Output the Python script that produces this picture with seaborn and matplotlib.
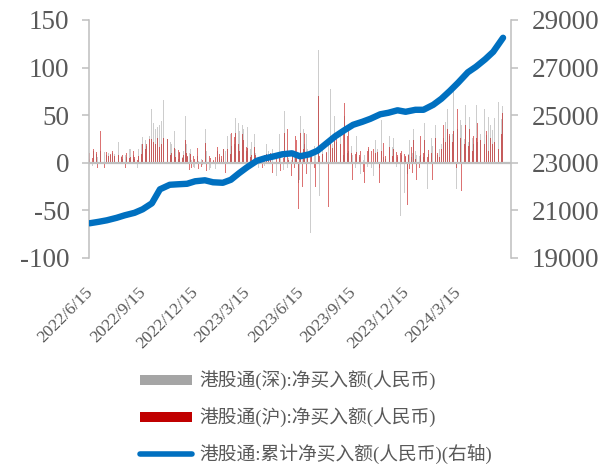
import matplotlib
matplotlib.use("Agg")
import matplotlib.pyplot as plt
import matplotlib.transforms as mtransforms
from matplotlib.lines import Line2D
import pandas as pd
import seaborn as sns

START = "2022-06-15"

# 港股通(深) daily net buy, one value per trading day
sz_net = [
    4, 35, 8, -3, 6, 12, -12, 5, 9, -4, 6, 10, 7,
    12, 6, -5, 9, 4, 11, 7, -3, 8, 3, 10, 24, 4,
    8, 3, 10, -10, 6, 9, 2, 7, -8, 5, 22, 6, 9,
    7, 10, 4, 12, -3, 8, 11, 6, -5, 9, 14, 7, 15,
    10, 6, 8, 25, 4, 12, 22, -5, 9, 14, 11, 18, 20,
    16, 27, 12, 20, 24, 30, 18, 40, 14, 28, 35, 45,
    56, 30, 42, 25, 48, 35, 45, 38, 52, 28, 40, 63, 44,
    73, 40, 66, 30, 58, 35, 56, 25, 42, 30, 22, -15, 20,
    -15, 10, 33, 8, 15, -6, 12, 4, 18, 10, -4, 29, 6,
    29, 12, 49, 8, 20, 35, 6, 10, 4, 15, 37, 3, -4,
    5, -6, 8, -4, 7, 13, 2, 9, 6, 4, 16, -2,
    8, 4, 36, 10, 12, -40, 6, -8, 9, -5, 7, 11, 2,
    21, 5, -7, 9, 12, -4, 8, 6, -10, 4, 10, 7, 15,
    47, 12, 20, -6, 28, 45, 15, 30, 38, 18, 25, 35, 20,
    22, 47, 30, 14, 42, 25, 33, 10, 28, 40, 16, 36, 12,
    36, 12, 25, 38, 20, -18, 15, 28, 22, 10, 18, 30,
    38, 10, 16, 20, -5, 8, 14, -6, 12, 7, 18, 9, -3,
    5, 20, 8, -4, 12, 20, 9, 6, 45, 14, -3, 10, 4,
    8, -14, 12, 9, 30, -25, 6, 11, 18, -8, 7, 54, -40,
    10, -6, 14, 5, -12, 20, 3, -4, 9, 12, -8, 5, 7,
    6, -21, 12, -18, 8, 49, 10, -10, 35, -15, 20, 30,
    -42, 15, 8, 126, -74, 20, 6, -5, 12, 18, -9, 10, 14,
    10, 119, 5, -35, 12, 28, 20, 52, -32, 15, 25, 10, 18,
    78, 24, 16, 77, 10, -25, 20, 34, 49, 18, 28, 22, 40,
    78, 28, 15, 30, 49, 22, 8, 30, 49, 20, 36, 10, 24,
    12, 49, 35, 18, 24, 8, 35, 10, -6, 20, 28, 16,
    -8, 6, 10, -12, 4, 14, 3, -6, 8, 12, 9, -4, 7,
    14, 6, 10, -5, 38, 12, -14, 8, 24, -6, 9, 15, 7,
    -6, 5, -8, 45, -30, 6, 12, -32, 4, -58, 8, 10, -5,
    28, 5, -8, 17, 10, 26, 24, 9, -4, 12, 6, 8, 71,
    -56, 31, 8, -7, 84, -32, 10, 6, -12, 14, 9, 12,
    24, 6, -4, 10, 5, 36, 12, -6, 8, 14, -9, 7, 10,
    8, 15, 38, 6, 10, 42, -25, 12, -28, 20, 9, 14, 18,
    26, 10, 18, 6, 14, 40, 20, 26, 8, 22, 15, 30, 24,
    20, 14, 26, 56, 18, 43, 12, 57, 24, 35, 28, 40, 22,
    30, 71, 77, 24, 75, -28, 82, 36, 40, 60, 45, 20,
    40, 10, 66, 25, 40, 61, 30, 54, 22, 35, 48, 28, 38,
    26, 50, 20, 61, 34, 61, 40, 22, 45, 18, 30, 52, 36,
    43, 20, 57, 26, 38, 29, 35, 48, 18, 30, 40, 16, 34,
    52, 30, 47, 20, 50, 35, 42, 64, 38, 71, 46, 87, 60,
]

# 港股通(沪) daily net buy
sh_net = [
    10, 15, 12, 5, 8, 14, 3, 9, 11, 2, -6, 13, 10,
    33, 5, -20, 10, 12, -5, 8, 6, 11, 9, 7, 10, 8,
    9, 6, 12, 4, -3, 7, 5, 11, -4, 6, 8, 10, 7,
    6, 11, 8, 3, 12, -6, 7, 10, 4, -14, 5, 12, 6,
    8, -18, 12, 10, 6, 9, 11, 3, 14, 7, 10, 16, 9,
    12, 20, 8, 18, 15, 10, 20, 22, 14, 25, 16, 24,
    25, 18, 22, 15, 24, 20, 21, 26, 19, 23, 17, 24, 20,
    24, 20, 26, 14, 22, 31, 18, 25, 20, -21, 8, 6, 10,
    -21, 12, 16, 18, 6, -14, 9, 13, 7, 11, 8, 13, 5,
    13, 8, 24, 5, 10, -34, 7, -8, 5, 9, 28, -6, 7,
    6, 4, -5, 3, 16, 5, -7, 8, 10, -4, 7, 3,
    5, 9, 21, 6, -9, -10, 4, 7, -3, 5, -6, 10, 3,
    10, -32, 6, 8, 17, 4, -11, 9, 3, 7, -6, 12, 14,
    11, -11, 20, -21, 14, 35, 18, 9, 12, 31, 16, 10, 27,
    18, 31, 14, 35, 20, 8, 12, 22, 16, 30, 11, 24, 9,
    20, 17, 9, 16, 11, 18, 6, 13, 8, 15, 12, 17,
    24, 8, 12, 14, 6, -4, 10, 3, 9, -5, 11, 36, 8,
    -7, 9, 7, 12, 4, 7, 10, 5, 17, -11, 13, 3, 6,
    24, 6, -5, 28, 8, 4, -9, 12, 15, 5, -6, 31, 9,
    -4, 35, 8, 3, 12, 6, -14, 9, 7, -6, 10, 28, 5,
    24, -49, 10, 5, -8, 31, -25, 7, 14, -14, 31, -12,
    31, 8, 12, -14, 6, -20, 10, 9, 13, -6, 28, -25, 7,
    12, 70, -53, 7, 10, 17, 9, 35, 6, 14, 22, 11, 20,
    45, -46, 20, 28, 12, 28, 16, 8, 31, 14, 10, 26, 12,
    47, 35, 12, 20, 24, 16, 30, 10, 63, 22, 9, 28, 14,
    38, -63, 52, 10, 31, -18, -21, 14, 9, 20, 11, 18,
    17, 8, -5, 12, 24, 6, -10, 10, -21, 33, -35, 12, 3,
    17, 9, -7, 12, 14, 5, 14, -10, 10, -12, 8, 11, 13,
    -21, 8, -12, 12, 38, 21, -18, 5, 7, 24, -46, 10, 9,
    17, -18, -32, 7, 10, 14, -6, 9, 11, -3, 8, 12, -46,
    10, 24, 12, -42, 49, 9, -46, 7, -44, 11, 8, 14,
    -7, 17, 6, -11, 9, 24, 4, 7, -18, 5, 12, -5, 6,
    28, 12, 17, 10, -14, 24, 8, 28, 6, 9, 13, 5, 11,
    10, 28, -18, -25, 12, 26, 8, 16, 10, 20, 6, 14, 12,
    14, 18, 40, 12, 22, 22, 28, 35, 10, 24, 30, 14, 26,
    22, 57, 33, 18, 73, -6, 47, 57, 30, 70, 26, 35,
    -30, 54, 33, 20, 44, 40, 26, 40, 18, 30, 36, 12, 28,
    12, 54, 28, 50, 18, 26, 20, 42, 14, 30, 24, 36, 22,
    36, 14, 20, 30, 10, 33, -34, 12, 28, 18, 26, 32, 20,
    28, 43, 22, 15, 30, 33, 43, 15, 36, 45, 30, 61, 52,
]

# 港股通 cumulative net buy (right axis), semi-monthly readings
cum_net = [
    20458, 20521, 20584, 20689, 20794, 20899, 21046, 21298, 21886, 22076,
    22097, 22118, 22223, 22265, 22181, 22160, 22286, 22559, 22811, 23084,
    23189, 23273, 23357, 23399, 23273, 23357, 23504, 23840, 24114, 24387,
    24597, 24723, 24849, 25038, 25101, 25206, 25143, 25227, 25227, 25437,
    25689, 26025, 26362, 26803, 27034, 27349, 27664, 28253,
]

TICK_DATES = ["2022-06-15", "2022-09-15", "2022-12-15", "2023-03-15",
              "2023-06-15", "2023-09-15", "2023-12-15", "2024-03-15"]

LABELS = ["港股通(深):净买入额(人民币)", "港股通(沪):净买入额(人民币)",
          "港股通:累计净买入额(人民币)(右轴)"]

GRAY = "#a5a5a5"
RED = "#c00000"
BLUE = "#0070c0"
AXIS = "#bfbfbf"
TEXT = "#595959"

sns.set_style("white")
plt.rcParams["font.family"] = ["Liberation Serif", "Noto Sans CJK SC"]
plt.rcParams["axes.unicode_minus"] = False

fig = plt.figure(figsize=(6.14, 4.65), dpi=100)
ax = fig.add_axes([0.145, 0.4452, 0.6865, 0.5118])
ax2 = ax.twinx()

n = min(len(sz_net), len(sh_net))
bar_dates = pd.bdate_range(START, periods=n)
ax.bar(bar_dates, sz_net[:n], width=0.7, color=GRAY, alpha=0.55,
       linewidth=0, zorder=1)
ax.bar(bar_dates, sh_net[:n], width=0.7, color=RED, alpha=0.55,
       linewidth=0, zorder=2)
ax.axhline(0, color=AXIS, lw=1.6, zorder=3)

line_dates = pd.date_range(START, periods=len(cum_net), freq="SMS")
sns.lineplot(x=line_dates, y=cum_net, ax=ax2, color=BLUE, linewidth=4.6,
             solid_capstyle="round", legend=False)

ax.set_xlim(pd.Timestamp("2022-06-14"), pd.Timestamp("2024-06-14"))
ax.set_ylim(-100, 150)
ax.set_yticks(range(-100, 151, 50))
ax2.set_ylim(19000, 29000)
ax2.set_yticks(range(19000, 29001, 2000))
ax2.set_ylabel("")

ticks = pd.to_datetime(TICK_DATES)
ax.set_xticks(ticks)
ax.set_xticklabels([f"{d.year}/{d.month}/{d.day}" for d in ticks], rotation=45,
                   ha="right", va="center", rotation_mode="anchor",
                   fontsize=12.6, color=TEXT)
ax.tick_params(axis="x", length=0, pad=23)
shift = mtransforms.ScaledTranslation(0.01, 0, fig.dpi_scale_trans)
for lab in ax.get_xticklabels():
    lab.set_transform(lab.get_transform() + shift)

ax.tick_params(axis="y", left=True, direction="out", length=5, width=1.1,
               color=AXIS, labelsize=19.5, labelcolor=TEXT, pad=9)
ax2.tick_params(axis="y", right=True, direction="out", length=5, width=1.1,
                color=AXIS, labelsize=19.5, labelcolor=TEXT, pad=10)

for s in ["top", "bottom", "right"]:
    ax.spines[s].set_visible(False)
for s in ["top", "bottom", "left"]:
    ax2.spines[s].set_visible(False)
ax.spines["left"].set_color(AXIS)
ax.spines["left"].set_linewidth(1.1)
ax2.spines["right"].set_color(AXIS)
ax2.spines["right"].set_linewidth(1.1)

handles = [Line2D([], [], color=GRAY, lw=7.2, solid_capstyle="butt"),
           Line2D([], [], color=RED, lw=7.2, solid_capstyle="butt"),
           Line2D([], [], color=BLUE, lw=4, solid_capstyle="round")]
fig.legend(handles, LABELS, loc="upper left", bbox_to_anchor=(0.228, 0.203),
           frameon=False, fontsize=13.5, handlelength=2.8, handletextpad=0.35,
           labelspacing=0.9, borderpad=0, borderaxespad=0, labelcolor=TEXT)

fig.savefig("out.png", dpi=100)
